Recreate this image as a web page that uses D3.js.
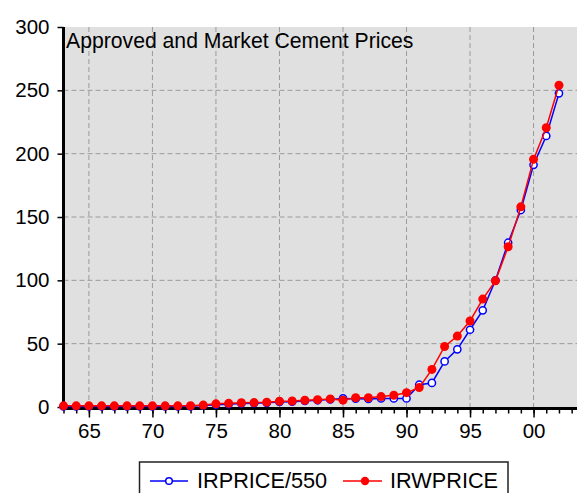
<html>
<head>
<script src="https://d3js.org/d3.v7.min.js"></script>
<style>
  body { margin: 0; background: white; }
  text { font-family: "Liberation Sans", Arial, sans-serif; }
</style>
</head>
<body>
<svg id="chart" width="577" height="493"></svg>
<script>
var years = d3.range(1963, 2003);
// IRPRICE/550, blue open circles
var irprice = [0.4,0.4,0.4,0.4,0.4,0.4,0.4,0.4,0.4,0.4,0.5,1.2,1.8,2.2,2.8,3.0,3.3,4.0,4.2,4.8,
  5.3,6.0,6.8,6.6,6.4,6.8,6.7,6.8,17.6,19.0,36,45.5,61,76.3,100,129.7,155.5,191.2,214,247.6];
// IRWPRICE, red filled circles
var irwprice = [0.9,0.9,0.9,0.9,0.9,0.9,0.9,0.9,0.9,0.9,1.0,1.5,2.5,2.9,3.4,3.5,3.8,4.6,4.7,5.3,
  5.8,6.4,5.4,7.4,7.4,8.2,9.3,11.3,15.3,29.7,47.8,56,67.9,85.2,99.6,126.5,158,195.5,220.5,254];
var yTicks = [0,50,100,150,200,250,300];
var xMajor = [1965,1970,1975,1980,1985,1990,1995,2000];
var seriesNames = ["IRPRICE/550","IRWPRICE"];

var svg = d3.select("#chart");
var pLeft = 63.5, pRight = 577, pTop = 27, pBottom = 407;

var xs = d3.scaleLinear().domain([1963, 2003.42]).range([pLeft, pRight]);
var ys = d3.scaleLinear().domain([0, 300]).range([pBottom, pTop]);

// plot background
svg.append("rect")
  .attr("x", pLeft).attr("y", pTop)
  .attr("width", pRight - pLeft).attr("height", pBottom - pTop + 1.5)
  .attr("fill", "#e0e0e0");

// grid
svg.append("g").selectAll("line").data(yTicks.filter(d => d > 0 && d < 300)).enter().append("line")
  .attr("x1", pLeft).attr("x2", pRight)
  .attr("y1", d => ys(d)).attr("y2", d => ys(d))
  .attr("stroke", "#9a9a9a").attr("stroke-width", 1).attr("stroke-dasharray", "5,3");
svg.append("g").selectAll("line").data(xMajor).enter().append("line")
  .attr("x1", d => xs(d)).attr("x2", d => xs(d))
  .attr("y1", pTop).attr("y2", pBottom)
  .attr("stroke", "#9a9a9a").attr("stroke-width", 1).attr("stroke-dasharray", "5,3");

// title
svg.append("text")
  .attr("x", 66).attr("y", 48)
  .style("font-size", "21.2px")
  .attr("fill", "#000")
  .text("Approved and Market Cement Prices");

// y axis
var yAxis = svg.append("g")
  .attr("transform", "translate(" + pLeft + ",0)")
  .call(d3.axisLeft(ys).tickValues(yTicks).tickSize(6).tickPadding(8));
yAxis.select(".domain").remove();
yAxis.selectAll("line").attr("stroke", "#000").attr("stroke-width", 1.5);
yAxis.selectAll("text").style("font-size", "20.5px").attr("fill", "#000");

// x axis: minor and major ticks
var axisY = pBottom + 1.5;
var xMinor = svg.append("g")
  .attr("transform", "translate(0," + axisY + ")")
  .call(d3.axisBottom(xs).tickValues(d3.range(1963, 2004)).tickSize(5).tickFormat(""));
xMinor.select(".domain").remove();
xMinor.selectAll("line").attr("stroke", "#000").attr("stroke-width", 1.5);

var xAxis = svg.append("g")
  .attr("transform", "translate(0," + axisY + ")")
  .call(d3.axisBottom(xs).tickValues(xMajor).tickSize(9).tickPadding(6)
    .tickFormat(d => d3.format("02d")(d % 100)));
xAxis.select(".domain").remove();
xAxis.selectAll("line").attr("stroke", "#000").attr("stroke-width", 1.5);
xAxis.selectAll("text").style("font-size", "20.5px").attr("fill", "#000");

// axis lines
svg.append("line").attr("x1", pLeft).attr("x2", pLeft).attr("y1", pTop).attr("y2", axisY + 1.5)
  .attr("stroke", "#000").attr("stroke-width", 3);
svg.append("line").attr("x1", pLeft - 1.5).attr("x2", pRight).attr("y1", axisY).attr("y2", axisY)
  .attr("stroke", "#000").attr("stroke-width", 3);

// series
var line = d3.line().x(d => xs(d[0])).y(d => ys(d[1]));
var blueData = years.map((y, i) => [y, irprice[i]]);
var redData = years.map((y, i) => [y, irwprice[i]]);

svg.append("path").datum(blueData).attr("d", line)
  .attr("fill", "none").attr("stroke", "#0000ff").attr("stroke-width", 1.5);
svg.append("g").selectAll("circle").data(blueData).enter().append("circle")
  .attr("cx", d => xs(d[0])).attr("cy", d => ys(d[1])).attr("r", 3.6)
  .attr("fill", "#fff").attr("stroke", "#0000ff").attr("stroke-width", 1.5);

svg.append("path").datum(redData).attr("d", line)
  .attr("fill", "none").attr("stroke", "#ff0000").attr("stroke-width", 1.5);
svg.append("g").selectAll("circle").data(redData).enter().append("circle")
  .attr("cx", d => xs(d[0])).attr("cy", d => ys(d[1])).attr("r", 4.5)
  .attr("fill", "#ff0000");

// legend
var lg = svg.append("g");
lg.append("rect").attr("x", 139.5).attr("y", 462).attr("width", 368.5).attr("height", 40)
  .attr("fill", "#fff").attr("stroke", "#222").attr("stroke-width", 1.5);
lg.append("line").attr("x1", 150).attr("x2", 188).attr("y1", 481).attr("y2", 481)
  .attr("stroke", "#0000ff").attr("stroke-width", 1.5);
lg.append("circle").attr("cx", 169).attr("cy", 481).attr("r", 3.3)
  .attr("fill", "#fff").attr("stroke", "#0000ff").attr("stroke-width", 1.5);
lg.append("text").attr("x", 197).attr("y", 488).style("font-size", "21.7px").text(seriesNames[0]);
lg.append("line").attr("x1", 343).attr("x2", 382).attr("y1", 481).attr("y2", 481)
  .attr("stroke", "#ff0000").attr("stroke-width", 1.5);
lg.append("circle").attr("cx", 365).attr("cy", 481).attr("r", 4.2).attr("fill", "#ff0000");
lg.append("text").attr("x", 390).attr("y", 488).style("font-size", "21.7px").text(seriesNames[1]);
</script>
</body>
</html>
